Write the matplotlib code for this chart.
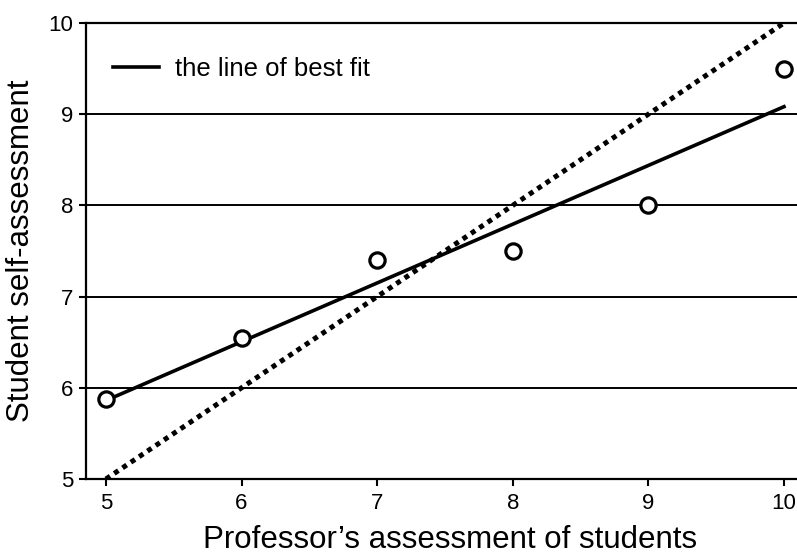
import numpy as np
import matplotlib
matplotlib.use("Agg")
import matplotlib.pyplot as plt

plt.rcParams['font.family'] = ['Liberation Sans', 'DejaVu Sans']

prof_scores = [5, 6, 7, 8, 9, 10]
self_scores = [5.88, 6.55, 7.4, 7.5, 8.0, 9.5]
x_ticks = [5, 6, 7, 8, 9, 10]
y_ticks = [5, 6, 7, 8, 9, 10]

slope, intercept = np.polyfit(prof_scores, self_scores, 1)
fit_x = np.array([min(prof_scores), max(prof_scores)])
fit_y = slope * fit_x + intercept

fig = plt.figure(figsize=(7.97, 5.57), dpi=100)
ax = fig.add_axes([86/797, (557-479)/557, 1 - 86/797, (479-23)/557])

for yv in y_ticks[1:]:
    ax.axhline(yv, color='black', lw=1.4, zorder=1)

ax.plot(fit_x, fit_x, color='black', lw=3.6, linestyle=(0, (1.0, 1.0)),
        dash_capstyle='butt', zorder=2)
ax.plot(fit_x, fit_y, color='black', lw=2.6, zorder=3, label='the line of best fit')
ax.plot(prof_scores, self_scores, linestyle='none', marker='o', ms=11,
        mfc='white', mec='black', mew=2.3, zorder=4)

ax.set_xlim(4.853, 10.096)
ax.set_ylim(5, 10)
ax.set_xticks(x_ticks)
ax.set_yticks(y_ticks)
ax.tick_params(axis='both', direction='out', length=5, width=1.5, labelsize=16, colors='black')
ax.tick_params(axis='x', pad=5)
ax.tick_params(axis='y', pad=4)
ax.spines['right'].set_visible(False)
for side in ['left', 'bottom', 'top']:
    ax.spines[side].set_linewidth(1.6)

ax.set_xlabel("Professor\u2019s assessment of students", fontsize=22.5, labelpad=8)
ax.xaxis.label.set_x(0.512)
ax.set_ylabel("Student self-assessment", fontsize=22.5, labelpad=9)

leg = ax.legend(loc='center left', bbox_to_anchor=(113/797, 1 - 69/557),
                bbox_transform=fig.transFigure, frameon=False,
                borderpad=0, borderaxespad=0,
                fontsize=18.5, handlelength=1.8, handletextpad=0.6)

fig.savefig('out.png', dpi=100)
